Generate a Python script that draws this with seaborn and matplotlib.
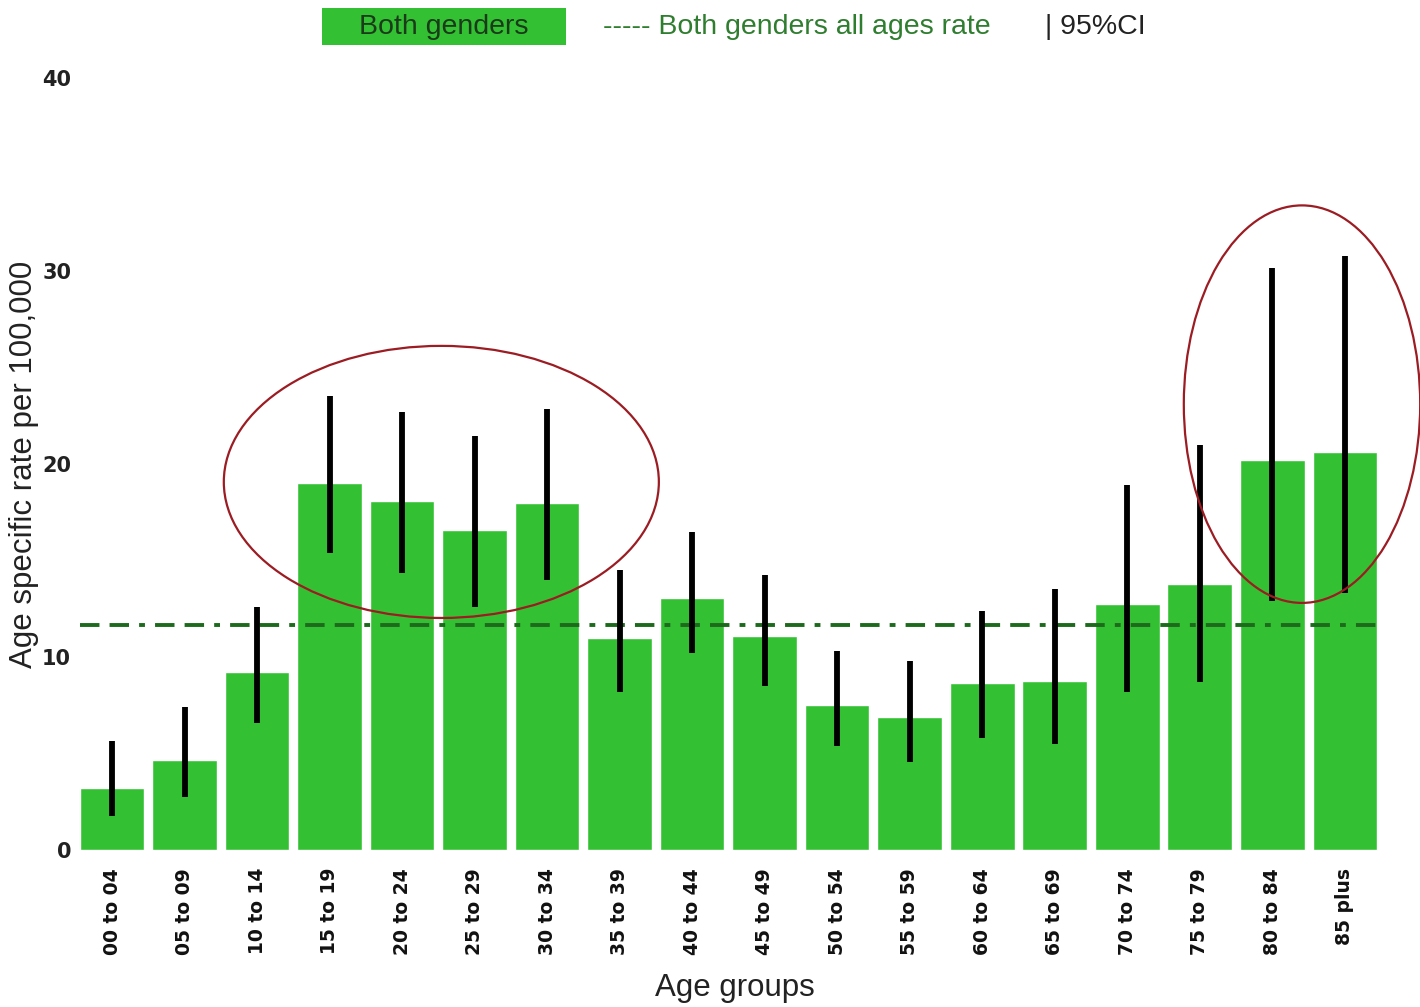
import numpy as np
import pandas as pd
import matplotlib
matplotlib.use('Agg')
import matplotlib.pyplot as plt
from matplotlib.patches import Ellipse, Rectangle
import seaborn as sns

# dados
grupos = ['00 to 04', '05 to 09', '10 to 14', '15 to 19', '20 to 24', '25 to 29',
          '30 to 34', '35 to 39', '40 to 44', '45 to 49', '50 to 54', '55 to 59',
          '60 to 64', '65 to 69', '70 to 74', '75 to 79', '80 to 84', '85 plus']
taxa = [3.2, 4.65, 9.2, 19.0, 18.1, 16.6, 18.0, 11.0, 13.05, 11.1, 7.5, 6.9,
        8.65, 8.75, 12.75, 13.8, 20.2, 20.6]
ic_inf = [1.75, 2.75, 6.6, 15.4, 14.35, 12.6, 14.0, 8.2, 10.2, 8.5, 5.4, 4.55,
          5.8, 5.5, 8.2, 8.7, 12.9, 13.3]
ic_sup = [5.65, 7.4, 12.6, 23.5, 22.7, 21.45, 22.85, 14.5, 16.5, 14.25, 10.3, 9.8,
          12.4, 13.5, 18.9, 21.0, 30.15, 30.8]
taxa_geral = 11.65

df = pd.DataFrame({'grupo': grupos, 'taxa': taxa})

sns.set_style('white')
plt.rcParams['font.family'] = ['DejaVu Sans']

verde = '#33c133'
fonte_leg = ['Liberation Sans', 'DejaVu Sans']

fig = plt.figure(figsize=(14.2, 10.07), dpi=100)
ax = fig.add_axes([0.056, 0.156, 0.914, 0.7665])

sns.barplot(data=df, x='grupo', y='taxa', color=verde, saturation=1,
            width=0.89, errorbar=None, ax=ax, zorder=2)

# intervalos de confiança
pos = np.arange(len(grupos))
ax.vlines(pos, ic_inf, ic_sup, color='black', lw=4.2, zorder=4)

# taxa de todas as idades
ax.axhline(taxa_geral, color='#1d6a1d', lw=2.8, dashes=(5, 2.6, 5, 2.6, 1.5, 2.6), zorder=3)

# destaques em vermelho
for (cx, cy, w, h) in [(4.54, 19.07, 6.0, 14.1), (16.41, 23.1, 3.26, 20.6)]:
    ax.add_patch(Ellipse((cx, cy), w, h, fill=False, edgecolor='#9b1c22', lw=1.6,
                         zorder=5, clip_on=False))

ax.set_xlim(-0.45, 17.45)
ax.set_ylim(0, 40)
ax.set_yticks([0, 10, 20, 30, 40])
ax.tick_params(axis='y', length=0, labelsize=15, labelcolor='#222222', pad=6)
ax.tick_params(axis='x', length=7, color='#bbbbbb', labelsize=13.5,
               labelcolor='#111111', rotation=90, pad=6)
for t in ax.get_yticklabels() + ax.get_xticklabels():
    t.set_fontweight('bold')
for s in ax.spines.values():
    s.set_visible(False)

ax.set_xlabel('Age groups', fontsize=22.5, color='#222222', family=fonte_leg)
ax.xaxis.set_label_coords(0.505, -0.16)
ax.set_ylabel('Age specific rate per 100,000', fontsize=22.5, color='#222222',
              family=fonte_leg)
ax.yaxis.set_label_coords(-0.031, 0.5)

# legenda no topo
fig.add_artist(Rectangle((0.2268, 0.9553), 0.1718, 0.0367, transform=fig.transFigure,
                         facecolor=verde, edgecolor='none'))
fig.text(0.3127, 0.9735, 'Both genders', fontsize=20.5, color='#1a3a1a',
         va='center', ha='center', family=fonte_leg)
fig.text(0.4245, 0.9735, '----- Both genders all ages rate', fontsize=20.5,
         color='#2f7d2f', va='center', ha='left', family=fonte_leg)
fig.text(0.736, 0.9735, '| 95%CI', fontsize=20.5, color='#222222', va='center',
         ha='left', family=fonte_leg)

plt.savefig('out.png', dpi=100)
